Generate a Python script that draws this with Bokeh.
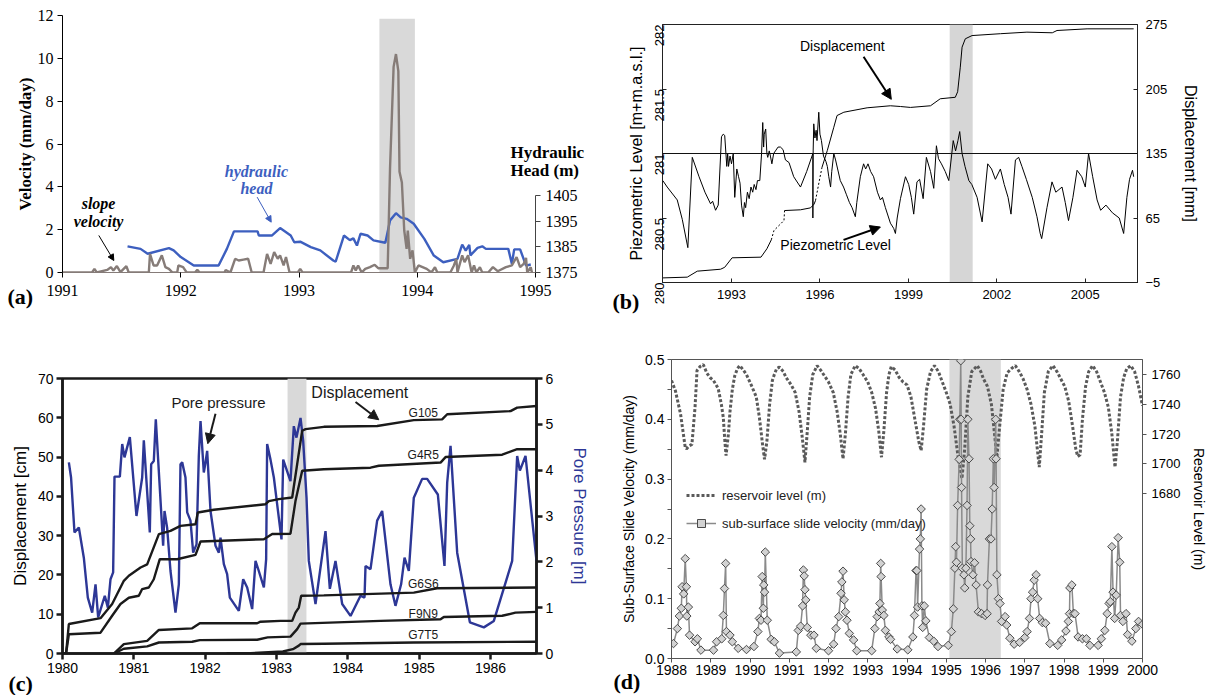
import math
from bokeh.plotting import figure
from bokeh.models import (Range1d, LinearAxis, FixedTicker, BoxAnnotation, Span,
                          Label, Arrow, NormalHead, Legend, LegendItem, Title,
                          NumeralTickFormatter)
from bokeh.layouts import row, column
from bokeh.embed import file_html
from bokeh.resources import INLINE

nan = float("nan")

# ---------------- panel (a) data ----------------
a_xticks = [1991, 1992, 1993, 1994, 1995]
a_vel_ticks = [0, 2, 4, 6, 8, 10, 12]
a_head_ticks = [1375, 1385, 1395, 1405]
a_head_title = {1421.9: "Hydraulic", 1414.9: "Head (m)"}
a_head_year = [1991.55, 1991.66, 1991.72, 1991.90, 1991.94, 1992.0, 1992.11, 1992.32, 1992.39, 1992.45,
               1992.65, 1992.66, 1992.77, 1992.84, 1992.93, 1992.96, 1993.01, 1993.10, 1993.18, 1993.29,
               1993.31, 1993.38, 1993.43, 1993.46, 1993.49, 1993.52, 1993.58, 1993.63, 1993.73, 1993.77,
               1993.82, 1993.86, 1993.91, 1993.97, 1994.06, 1994.14, 1994.22, 1994.34, 1994.38, 1994.41,
               1994.44, 1994.45, 1994.51, 1994.55, 1994.58, 1994.77, 1994.80, 1994.82, 1994.87, 1994.92,
               1994.96]
a_head = [1385.2, 1384.2, 1382.3, 1384.5, 1383.6, 1381.0, 1377.7, 1377.7, 1384.2, 1391.0,
          1391.0, 1389.4, 1389.4, 1392.3, 1389.4, 1386.8, 1387.0, 1384.9, 1383.6, 1379.7,
          1379.2, 1389.4, 1387.6, 1388.3, 1385.5, 1390.1, 1389.4, 1387.5, 1386.6, 1395.3,
          1398.1, 1396.5, 1395.9, 1394.0, 1388.1, 1381.6, 1379.0, 1380.3, 1385.9, 1383.5,
          1385.8, 1381.7, 1384.6, 1385.2, 1384.2, 1384.2, 1378.4, 1384.0, 1384.0, 1377.7,
          1378.1]
a_vel_year = [1991.00, 1991.25, 1991.27, 1991.29, 1991.378, 1991.41, 1991.43, 1991.46, 1991.49, 1991.54,
              1991.56, 1991.73, 1991.74, 1991.77, 1991.80, 1991.84, 1991.87, 1991.90, 1991.93, 1991.97,
              1991.98, 1992.02, 1992.05, 1992.12, 1992.14, 1992.16, 1992.37, 1992.38, 1992.42, 1992.46,
              1992.49, 1992.53, 1992.57, 1992.60, 1992.70, 1992.73, 1992.76, 1992.79, 1992.82, 1992.84,
              1992.87, 1992.89, 1992.92, 1992.99, 1993.01, 1993.03, 1993.44, 1993.46, 1993.48, 1993.50,
              1993.53, 1993.56, 1993.60, 1993.64, 1993.67, 1993.75, 1993.77, 1993.80, 1993.82, 1993.84,
              1993.85, 1993.87, 1993.89, 1993.91, 1993.92, 1993.94, 1993.96, 1993.98, 1994.01, 1994.08,
              1994.12, 1994.15, 1994.17, 1994.28, 1994.31, 1994.33, 1994.34, 1994.38, 1994.40, 1994.43,
              1994.46, 1994.48, 1994.50, 1994.53, 1994.55, 1994.60, 1994.64, 1994.68, 1994.75, 1994.80,
              1994.84, 1994.87, 1994.90, 1994.92, 1994.93, 1994.96, 1994.97]
a_vel = [0, 0, 0.17, 0, 0.12, 0.25, 0.09, 0.3, 0.02, 0.3,
         0, 0, 0.87, 0.33, 0.33, 0.8, 0.25, 0.17, 0, 0,
         0.33, 0.25, 0, 0, 0.12, 0, 0, 0.12, 0, 0.64,
         0.56, 0.6, 0.64, 0, 0, 0.87, 0.4, 0.95, 0.64, 0.8,
         0.33, 0.72, 0, 0, 0.17, 0, 0, 0.33, 0.1, 0.33,
         0, 0.17, 0.25, 0.36, 0.2, 0.2, 4.9, 9.6, 10.2, 9.4,
         4.7, 4.2, 1.96, 1.1, 1.96, 0.64, 1.03, 0, 0.33, 0.17,
         0, 0.25, 0, 0, 0.33, 0.64, 0, 0.8, 0.48, 0.8,
         0, 0.33, 0, 0.25, 0, 0, 0.25, 0.06, 0.25, 0.33,
         0.72, 0.25, 0.4, 0.68, 0, 0.25, 0]
a_event = [1993.68, 1993.98]

# ---------------- panel (b) data ----------------
b_xticks = [1993, 1996, 1999, 2002, 2005]
b_level_ticks = [280, 280.5, 281, 281.5, 282]
b_disp_ticks = [-5, 65, 135, 205, 275]
b_piezo_year = [1990.67, 1990.82, 1991.16, 1991.33, 1991.52, 1991.67, 1991.9, 1992.1, 1992.29, 1992.36,
                1992.46, 1992.55, 1992.66, 1992.72, 1992.77, 1992.84, 1992.87, 1992.9, 1992.95, 1993.0,
                1993.06, 1993.11, 1993.18, 1993.24, 1993.29, 1993.34, 1993.40, 1993.44, 1993.48, 1993.54,
                1993.6, 1993.66, 1993.72, 1993.77, 1993.83, 1993.88, 1993.96, 1994.02, 1994.06, 1994.09,
                1994.11, 1994.16, 1994.2, 1994.23, 1994.28, 1994.32, 1994.37, 1994.43, 1994.49, 1994.58,
                1994.66, 1994.75, 1994.83, 1994.95, 1995.11, 1995.34, 1995.55, 1995.76, 1995.76, 1995.77,
                1995.79, 1995.83, 1995.87, 1995.9, 1995.96, 1996.0, 1996.05, 1996.12, 1996.2, 1996.25,
                1996.3, 1996.36, 1996.4, 1996.47, 1996.53, 1996.6, 1996.69, 1996.8, 1996.9, 1997.0,
                1997.09, 1997.2, 1997.25, 1997.37, 1997.48, 1997.55, 1997.63, 1997.72, 1997.82, 1997.95,
                1998.05, 1998.12, 1998.22, 1998.39, 1998.5, 1998.56, 1998.62, 1998.73, 1998.9, 1999.01,
                1999.1, 1999.18, 1999.29, 1999.38, 1999.50, 1999.61, 1999.75, 1999.86, 1999.95, 2000.02,
                2000.12, 2000.25, 2000.37, 2000.52, 2000.6, 2000.68, 2000.74, 2000.82, 2000.92, 2001.05,
                2001.15, 2001.33, 2001.50, 2001.69, 2001.82, 2001.95, 2002.12, 2002.25, 2002.38, 2002.48,
                2002.63, 2002.74, 2002.85, 2003.0, 2003.2, 2003.36, 2003.47, 2003.52, 2003.70, 2003.87,
                2004.0, 2004.21, 2004.32, 2004.43, 2004.58, 2004.72, 2004.88, 2005.0, 2005.11, 2005.25,
                2005.40, 2005.52, 2005.7, 2005.92, 2006.15, 2006.30, 2006.41, 2006.5, 2006.60, 2006.64]
b_piezo = [280.79, 280.74, 280.64, 280.49, 280.27, 280.97, 280.82, 280.70, 280.61, 280.63,
           280.56, 280.60, 281.13, 281.15, 281.14, 280.90, 281.00, 280.90, 280.98, 280.92,
           281.00, 280.66, 280.88, 280.82, 280.77, 280.60, 280.51, 280.62, 280.58, 280.70,
           280.65, 280.74, 280.70, 280.76, 280.72, 280.79, 280.79, 281.00, 281.24, 281.05,
           281.15, 281.19, 281.00, 280.97, 281.02, 280.98, 280.92, 281.00, 281.02, 281.05,
           281.05, 281.03, 280.95, 280.93, 280.82, 280.74, 280.86, 281.00, 280.50, 281.02,
           281.23, 281.12, 281.18, 281.10, 281.32, 281.15, 281.10, 280.98, 280.94, 280.90,
           280.82, 280.74, 280.86, 281.00, 280.95, 280.88, 280.79, 280.74, 280.68, 280.62,
           280.58, 280.51, 280.62, 280.82, 280.92, 280.88, 280.92, 280.86, 280.82, 280.70,
           280.64, 280.66, 280.58, 280.46, 280.42, 280.38, 280.50, 280.65, 280.82, 280.76,
           280.66, 280.53, 280.78, 280.80, 280.65, 280.97, 280.86, 280.73, 281.06, 280.96,
           280.92, 280.86, 280.79, 281.10, 281.02, 281.10, 281.17, 281.00, 280.90, 280.79,
           280.76, 280.66, 280.47, 280.92, 280.88, 280.80, 280.88, 280.76, 280.66, 280.53,
           280.95, 280.97, 280.90, 280.80, 280.66, 280.51, 280.38, 280.34, 280.58, 280.78,
           280.70, 280.74, 280.62, 280.48, 280.66, 280.87, 280.82, 280.74, 281.00, 280.82,
           280.64, 280.56, 280.60, 280.54, 280.50, 280.38, 280.66, 280.80, 280.87, 280.82]
b_disp_year = [1990.67, 1991.5, 1991.84, 1992.63, 1992.77, 1993.02, 1994.0, 1994.2, 1994.35, nan,
               1994.8, 1995.34, 1995.68, 1995.8, 1995.85, nan,
               1996.07, 1996.25, 1996.47, 1996.58, 1996.81, 1997.6, 1998.39, 1998.73, 1999.07, 1999.75,
               2000.08, 2000.59, 2000.67, 2000.76, 2000.82, 2000.93, 2001.16, 2002.12, 2003.02, 2003.88,
               2004.04, 2005.06, 2006.64]
b_disp = [0, 0.8, 7.3, 9.4, 11.5, 21.8, 22.5, 31.6, 41.3, nan,
          73.1, 73.9, 76.0, 80.0, 84.0, nan,
          120.0, 138.3, 163.5, 176.2, 179.8, 184.6, 186.8, 186.0, 185.0, 186.8,
          194.4, 196.0, 202.0, 228.7, 250.4, 259.5, 263.0, 265.0, 266.7, 266.0,
          268.5, 270.3, 270.3]
b_gap_year = [1994.35, 1994.44, 1994.78, 1994.8, nan, 1995.85, 1996.0, 1996.07]
b_gap_disp = [41.3, 51.4, 62.3, 73.1, nan, 84.0, 109.0, 120.0]
b_event = [2000.40, 2001.18]

# ---------------- panel (c) data ----------------
c_xticks = [1980, 1981, 1982, 1983, 1984, 1985, 1986]
c_disp_ticks = [0, 10, 20, 30, 40, 50, 60, 70]
c_pp_ticks = [0, 1, 2, 3, 4, 5, 6]
c_pp_year = [1980.089, 1980.12, 1980.168, 1980.229, 1980.299, 1980.355, 1980.416, 1980.463, 1980.50, 1980.593,
             1980.636, 1980.673, 1980.71, 1980.729, 1980.804, 1980.837, 1980.869, 1980.944, 1981.037, 1981.117,
             1981.14, 1981.224, 1981.243, 1981.28, 1981.308, 1981.411, 1981.43, 1981.467, 1981.514, 1981.584,
             1981.631, 1981.654, 1981.678, 1981.724, 1981.748, 1981.794, 1981.832, 1981.879, 1981.911, 1981.935,
             1981.981, 1982.005, 1982.028, 1982.075, 1982.145, 1982.192, 1982.215, 1982.262, 1982.308, 1982.346,
             1982.472, 1982.533, 1982.589, 1982.659, 1982.706, 1982.752, 1982.823, 1982.855, 1982.869, 1982.916,
             1982.963, 1983.009, 1983.07, 1983.094, 1983.196, 1983.243, 1983.28, 1983.337, 1983.374, 1983.421,
             1983.453, 1983.547, 1983.687, 1983.748, 1983.827, 1983.921, 1984.038, 1984.178, 1984.234, 1984.248,
             1984.318, 1984.411, 1984.481, 1984.598, 1984.668, 1984.747, 1984.795, 1984.855, 1984.925, 1985.042,
             1985.112, 1985.262, 1985.355, 1985.393, 1985.44, 1985.533, 1985.711, 1985.907, 1986.047, 1986.304,
             1986.374, 1986.412, 1986.491, 1986.645]
c_pp = [4.17, 3.84, 2.64, 2.75, 2.09, 1.22, 0.89, 1.51, 0.79, 1.26,
        1.00, 1.62, 1.77, 3.86, 3.86, 4.57, 4.28, 4.72, 3.00, 3.84,
        4.65, 2.64, 4.13, 4.20, 5.11, 2.35, 3.11, 2.74, 1.80, 0.89,
        1.51, 4.13, 4.17, 3.84, 3.08, 2.90, 2.20, 2.38, 4.31, 5.07,
        3.95, 4.17, 4.42, 3.11, 2.35, 2.20, 2.53, 1.95, 1.73, 1.22,
        0.93, 1.62, 1.44, 0.97, 2.02, 1.80, 1.44, 2.06, 4.57, 4.23,
        3.84, 3.26, 2.49, 4.23, 3.76, 4.96, 4.71, 5.14, 4.64, 3.40,
        2.02, 1.08, 2.67, 1.41, 2.02, 1.08, 0.82, 1.26, 1.22, 1.91,
        1.84, 2.90, 3.11, 1.51, 1.04, 1.51, 2.09, 1.80, 3.40, 3.81,
        3.81, 3.47, 1.91, 3.73, 4.53, 2.20, 0.68, 0.57, 0.71, 2.02,
        4.31, 3.99, 4.31, 2.02]
c_g105_year = [1980.005, 1980.05, 1980.089, 1980.533, 1980.696, 1980.86, 1980.93, 1981.094, 1981.187, 1981.351,
               1981.514, 1981.654, 1981.865, 1981.897, 1982.121, 1982.846, 1982.893, 1983.033, 1983.22, 1983.29,
               1983.36, 1983.407, 1983.664, 1984.411, 1984.925, 1985.322, 1985.393, 1986.281, 1986.374, 1986.645]
c_g105 = [0, 0, 7.5, 9.0, 12.6, 18.5, 19.8, 21.9, 22.7, 30.4,
          31.2, 32.5, 32.9, 35.9, 36.6, 38.0, 38.8, 39.3, 39.7, 48.2,
          56.7, 57.1, 57.7, 57.9, 59.4, 59.6, 60.9, 61.7, 62.6, 63.0]
c_g4r5_year = [1980.005, 1980.05, 1980.089, 1980.533, 1980.696, 1980.813, 1980.93, 1981.07, 1981.117, 1981.21,
               1981.28, 1981.364, 1981.607, 1981.865, 1981.935, 1982.823, 1982.94, 1983.196, 1983.266, 1983.36,
               1983.664, 1984.318, 1984.435, 1985.3, 1985.37, 1986.164, 1986.374, 1986.645]
c_g4r5 = [0, 0, 4.9, 5.3, 9.6, 12.6, 14.2, 14.7, 16.4, 16.8,
          18.9, 24.0, 24.0, 25.1, 28.5, 29.1, 30.4, 30.5, 38.8, 46.5,
          46.9, 47.3, 47.8, 48.6, 50.0, 50.6, 52.0, 52.0]
c_g6s6_year = [1980.72, 1980.86, 1981.187, 1981.351, 1981.818, 1981.925, 1982.729, 1982.776, 1983.056, 1983.22,
               1983.266, 1983.313, 1983.346, 1983.664, 1984.925, 1985.252, 1986.645]
c_g6s6 = [0, 2.4, 3.2, 6.0, 6.4, 7.7, 7.7, 8.1, 8.3, 8.3,
          10.4, 11.7, 14.7, 14.8, 15.5, 16.6, 16.8]
c_f9n9_year = [1980.72, 1980.86, 1981.187, 1981.351, 1981.818, 1981.925, 1982.729, 1982.876, 1983.196, 1983.29,
               1983.337, 1984.458, 1985.3, 1985.346, 1986.164, 1986.35, 1986.645]
c_f9n9 = [0, 1.2, 1.8, 2.8, 3.0, 3.4, 3.5, 4.1, 4.3, 6.2,
          7.6, 8.3, 8.7, 9.3, 9.6, 10.4, 10.6]
c_g7t5_year = [1982.3, 1982.636, 1983.09, 1983.23, 1983.313, 1983.337, 1983.664, 1984.925, 1986.645]
c_g7t5 = [0, 0.1, 0.5, 1.1, 2.0, 2.4, 2.5, 2.8, 3.0]
c_event = [1983.155, 1983.42]

# ---------------- panel (d) data ----------------
d_xticks = [1988, 1989, 1990, 1991, 1992, 1993, 1994, 1995, 1996, 1997, 1998, 1999, 2000]
d_vel_ticks = [0.0, 0.1, 0.2, 0.3, 0.4, 0.5]
d_vel_minor = [0.05, 0.15, 0.25, 0.35, 0.45]
d_res_ticks = [1680, 1700, 1720, 1740, 1760]
d_res_year = [1988.0, 1988.1, 1988.23, 1988.35, 1988.38, 1988.45, 1988.52, 1988.6, 1988.65, 1988.73,
              1988.81, 1988.9, 1988.98, 1989.07, 1989.19, 1989.27, 1989.32, 1989.36, 1989.39, 1989.45,
              1989.49, 1989.55, 1989.61, 1989.68, 1989.74, 1989.83, 1989.91, 1990.03, 1990.16, 1990.24,
              1990.32, 1990.37, 1990.43, 1990.5, 1990.57, 1990.62, 1990.68, 1990.75, 1990.85, 1990.92,
              1991.05, 1991.15, 1991.25, 1991.33, 1991.4, 1991.46, 1991.52, 1991.6, 1991.71, 1991.8,
              1991.9, 1992.0, 1992.12, 1992.22, 1992.3, 1992.37, 1992.43, 1992.5, 1992.57, 1992.68,
              1992.78, 1992.88, 1993.0, 1993.1, 1993.2, 1993.28, 1993.35, 1993.41, 1993.48, 1993.54,
              1993.6, 1993.7, 1993.8, 1993.9, 1994.0, 1994.1, 1994.2, 1994.3, 1994.36, 1994.42,
              1994.5, 1994.6, 1994.7, 1994.8, 1994.9, 1995.0, 1995.1, 1995.2, 1995.3, 1995.4,
              1995.47, 1995.55, 1995.65, 1995.79, 1995.88, 1995.95, 1996.05, 1996.15, 1996.23, 1996.29,
              1996.36, 1996.45, 1996.55, 1996.66, 1996.76, 1996.86, 1996.96, 1997.06, 1997.16, 1997.26,
              1997.32, 1997.37, 1997.43, 1997.5, 1997.6, 1997.72, 1997.82, 1997.92, 1998.02, 1998.12,
              1998.22, 1998.3, 1998.35, 1998.41, 1998.47, 1998.55, 1998.63, 1998.73, 1998.83, 1998.93,
              1999.03, 1999.13, 1999.22, 1999.3, 1999.36, 1999.44, 1999.52, 1999.6, 1999.7, 1999.8,
              1999.9, 2000.0]
d_res = [1756, 1749, 1733.6, 1711, 1710, 1712, 1713, 1738, 1762.7, 1765.4,
         1766.7, 1761, 1758, 1756, 1750.6, 1740, 1731, 1715, 1705.5, 1720,
         1735, 1750, 1759, 1764, 1766, 1763, 1760, 1753, 1745, 1731,
         1713, 1703, 1715, 1740, 1756, 1760, 1764, 1765, 1762, 1758,
         1753, 1748, 1735, 1718, 1701, 1722, 1745, 1760, 1766, 1763,
         1759, 1755, 1748, 1735, 1720, 1703.3, 1720, 1745, 1760, 1766,
         1764, 1760, 1755, 1748, 1737, 1722, 1704.4, 1722, 1748, 1760,
         1765.3, 1763, 1758, 1755, 1753, 1745, 1730, 1715, 1708.9, 1725,
         1750, 1762, 1766, 1762, 1755, 1748, 1740, 1725, 1705, 1690,
         1710, 1745, 1762, 1766, 1762, 1757, 1752, 1740, 1720, 1704.4,
         1725, 1750, 1761, 1764, 1766, 1762, 1757, 1750, 1740, 1725,
         1710, 1697.7, 1720, 1748, 1762, 1766, 1762, 1757, 1752, 1742,
         1725, 1710, 1704.9, 1706, 1730, 1752, 1762, 1766, 1762, 1755,
         1748, 1738, 1720, 1697.7, 1715, 1745, 1758, 1764, 1766, 1762,
         1752, 1739]
d_vel_year = [1988.05, 1988.15, 1988.2, 1988.25, 1988.27, 1988.31, 1988.35, 1988.38, 1988.39, 1988.43,
              1988.46, 1988.6, 1988.66, 1988.75, 1989.07, 1989.15, 1989.28, 1989.32, 1989.35, 1989.38,
              1989.40, 1989.49, 1989.55, 1989.70, 1989.91, 1990.10, 1990.20, 1990.24, 1990.28, 1990.31,
              1990.34, 1990.35, 1990.37, 1990.39, 1990.44, 1990.54, 1990.62, 1990.75, 1991.18, 1991.23,
              1991.29, 1991.34, 1991.36, 1991.38, 1991.40, 1991.42, 1991.46, 1991.55, 1991.63, 1991.69,
              1992.00, 1992.13, 1992.19, 1992.26, 1992.32, 1992.34, 1992.37, 1992.40, 1992.43, 1992.47,
              1992.53, 1992.64, 1992.72, 1993.10, 1993.18, 1993.24, 1993.29, 1993.31, 1993.33, 1993.34,
              1993.37, 1993.41, 1993.45, 1993.54, 1993.58, 1993.75, 1994.02, 1994.15, 1994.19, 1994.23,
              1994.25, 1994.27, 1994.32, 1994.34, 1994.36, 1994.38, 1994.40, 1994.44, 1994.48, 1994.57,
              1994.68, 1994.79, 1995.05, 1995.13, 1995.18, 1995.22, 1995.24, 1995.26, 1995.29, 1995.33,
              1995.345, 1995.37, 1995.38, 1995.39, 1995.41, 1995.45, 1995.47, 1995.50, 1995.53, 1995.55,
              1995.58, 1995.60, 1995.62, 1995.63, 1995.68, 1995.72, 1995.76, 1995.82, 1995.90, 1995.99,
              1996.04, 1996.05, 1996.10, 1996.14, 1996.17, 1996.20, 1996.22, 1996.26, 1996.27, 1996.29,
              1996.33, 1996.37, 1996.41, 1996.50, 1996.54, 1996.62, 1996.73, 1996.87, 1997.00, 1997.06,
              1997.12, 1997.16, 1997.20, 1997.24, 1997.29, 1997.33, 1997.38, 1997.45, 1997.53, 1997.64,
              1997.84, 1997.94, 1998.05, 1998.11, 1998.14, 1998.15, 1998.20, 1998.24, 1998.28, 1998.36,
              1998.47, 1998.57, 1998.66, 1998.87, 1998.95, 1999.04, 1999.10, 1999.15, 1999.18, 1999.22,
              1999.25, 1999.29, 1999.33, 1999.38, 1999.42, 1999.44, 1999.50, 1999.58, 1999.62, 1999.73,
              1999.83, 1999.90, 2000.0]
d_vel = [0.025, 0.05, 0.071, 0.084, 0.12, 0.108, 0.167, 0.12, 0.071, 0.086,
         0.039, 0.028, 0.033, 0.014, 0.014, 0.028, 0.033, 0.072, 0.117, 0.159,
         0.045, 0.039, 0.028, 0.017, 0.015, 0.02, 0.045, 0.067, 0.064, 0.137,
         0.084, 0.123, 0.111, 0.178, 0.064, 0.032, 0.028, 0.009, 0.011, 0.047,
         0.054, 0.088, 0.148, 0.138, 0.115, 0.098, 0.052, 0.039, 0.039, 0.017,
         0.013, 0.024, 0.05, 0.07, 0.109, 0.128, 0.146, 0.098, 0.078, 0.064,
         0.042, 0.031, 0.013, 0.013, 0.05, 0.07, 0.078, 0.092, 0.159, 0.137,
         0.081, 0.072, 0.047, 0.036, 0.032, 0.016, 0.0145, 0.036, 0.072, 0.147,
         0.147, 0.086, 0.183, 0.2, 0.25, 0.088, 0.052, 0.088, 0.063, 0.035,
         0.029, 0.02, 0.022, 0.045, 0.083, 0.151, 0.187, 0.161, 0.256, 0.333,
         0.4, 0.498, 0.4, 0.286, 0.151, 0.14, 0.118, 0.151, 0.256, 0.4,
         0.334, 0.222, 0.2, 0.162, 0.14, 0.16, 0.123, 0.078, 0.075, 0.072,
         0.075, 0.123, 0.2, 0.2, 0.25, 0.334, 0.286, 0.4, 0.334, 0.14,
         0.1, 0.092, 0.062, 0.07, 0.056, 0.034, 0.024, 0.027, 0.035, 0.045,
         0.067, 0.1, 0.111, 0.131, 0.14, 0.1, 0.067, 0.06, 0.059, 0.025,
         0.022, 0.031, 0.046, 0.062, 0.075, 0.118, 0.123, 0.075, 0.075, 0.036,
         0.033, 0.033, 0.022, 0.022, 0.033, 0.047, 0.075, 0.092, 0.095, 0.187,
         0.111, 0.067, 0.106, 0.202, 0.161, 0.072, 0.062, 0.075, 0.04, 0.029,
         0.05, 0.062, 0.057]
d_event = [1995.08, 1996.39]

SERIF = "Liberation Serif"
SANS = "Liberation Sans"


def style_axis(ax, font, tick_size, label_size="14px", label_style="normal",
               tick_out=5, tick_in=0, standoff=5, label_standoff=5, lw=1,
               color="black"):
    ax.major_label_text_font = font
    ax.major_label_text_font_size = tick_size
    ax.major_label_text_color = "black"
    ax.axis_label_text_font = font
    ax.axis_label_text_font_size = label_size
    ax.axis_label_text_font_style = label_style
    ax.axis_label_text_color = "black"
    ax.major_tick_out = tick_out
    ax.major_tick_in = tick_in
    ax.minor_tick_out = 0
    ax.minor_tick_in = 0
    ax.major_label_standoff = standoff
    ax.axis_label_standoff = label_standoff
    ax.axis_line_width = lw
    ax.major_tick_line_width = lw
    ax.axis_line_color = color
    ax.major_tick_line_color = color


def base_fig(w, h, xr, yr, l, r, t, b):
    p = figure(width=w, height=h, x_range=xr, y_range=yr, output_backend="svg",
               toolbar_location=None, min_border_left=l, min_border_right=r,
               min_border_top=t, min_border_bottom=b)
    p.xgrid.visible = False
    p.ygrid.visible = False
    p.background_fill_color = "white"
    p.border_fill_color = "white"
    return p


def panel_label(p, text, offset, standoff):
    p.add_layout(Title(text=text, align="left", vertical_align="top", offset=offset,
                       standoff=standoff, text_font=SERIF, text_font_style="bold",
                       text_font_size="22px", text_color="black"), "below")


# ================= (a) =================
pa = base_fig(608, 326, Range1d(1991, 1995), Range1d(0, 12), 62, 73, 15, 54)
pa.outline_line_color = None
pa.extra_y_ranges = {"head": Range1d(1375, 1475.1)}
pa.xaxis.ticker = FixedTicker(ticks=a_xticks)
pa.yaxis.ticker = FixedTicker(ticks=a_vel_ticks)
pa.yaxis.axis_label = "Velocity (mm/day)"
style_axis(pa.xaxis[0], SERIF, "16px", standoff=7)
pa.xaxis[0].axis_line_color = "#857b78"
style_axis(pa.yaxis[0], SERIF, "16px", label_size="17px", label_style="bold",
           standoff=4, label_standoff=0)
ax_head = LinearAxis(y_range_name="head", ticker=FixedTicker(ticks=a_head_ticks),
                     bounds=(1375, 1405))
style_axis(ax_head, SERIF, "16px", standoff=5, color="#444444")
pa.add_layout(ax_head, "right")
# axis title of the hydraulic-head axis, written above the axis
ax_head_title = LinearAxis(y_range_name="head", ticker=FixedTicker(ticks=list(a_head_title.keys())),
                           major_label_overrides=a_head_title)
style_axis(ax_head_title, SERIF, "17px", tick_out=0, standoff=-70)
ax_head_title.major_label_text_font_style = "bold"
ax_head_title.axis_line_color = None
ax_head_title.major_tick_line_color = None
pa.add_layout(ax_head_title, "right")
pa.add_layout(BoxAnnotation(left=a_event[0], right=a_event[1], bottom=0, top=11.85,
                            fill_color="#d9d9d9", fill_alpha=1, line_color=None,
                            level="underlay"))
pa.line(a_head_year, a_head, y_range_name="head", color="#3d5fbf", line_width=2.4)
pa.line(a_vel_year, a_vel, color="#867c78", line_width=2.4)
for txt, yy in [("slope", 3.22), ("velocity", 2.40)]:
    pa.add_layout(Label(x=1991.305, y=yy, text=txt, text_align="center", text_baseline="middle",
                        text_font=SERIF, text_font_style="bold italic", text_font_size="16px",
                        text_color="black"))
for txt, yy in [("hydraulic", 4.72), ("head", 3.94)]:
    pa.add_layout(Label(x=1992.64, y=yy, text=txt, text_align="center", text_baseline="middle",
                        text_font=SERIF, text_font_style="bold italic", text_font_size="16px",
                        text_color="#3d5fbf"))
pa.add_layout(Arrow(end=NormalHead(size=6, fill_color="black", line_color="black"),
                    x_start=1991.307, y_start=1.73, x_end=1991.434, y_end=0.56,
                    line_color="black", line_width=1))
pa.add_layout(Arrow(end=NormalHead(size=6, fill_color="#3d5fbf", line_color="#3d5fbf"),
                    x_start=1992.646, y_start=3.52, x_end=1992.765, y_end=2.35,
                    line_color="#3d5fbf", line_width=1))
panel_label(pa, "(a)", -55, -30)

# ================= (b) =================
pb = base_fig(602, 326, Range1d(1990.66, 2006.77), Range1d(280, 282), 54, 73, 24, 44)
pb.outline_line_color = "#222222"
pb.extra_y_ranges = {"disp": Range1d(-5, 275)}
pb.xaxis.ticker = FixedTicker(ticks=b_xticks)
pb.yaxis.ticker = FixedTicker(ticks=b_level_ticks)
pb.yaxis.axis_label = "Piezometric Level [m+m.a.s.l.]"
pb.yaxis.major_label_orientation = math.pi / 2
style_axis(pb.xaxis[0], SANS, "13px", tick_out=0, tick_in=4, standoff=7, color="#222222")
style_axis(pb.yaxis[0], SANS, "13px", label_size="16px", tick_out=0, tick_in=4,
           standoff=3, label_standoff=3, color="#222222")
ax_disp = LinearAxis(y_range_name="disp", ticker=FixedTicker(ticks=b_disp_ticks),
                     axis_label="Displacement [mm]")
style_axis(ax_disp, SANS, "13px", label_size="16px", tick_out=0, tick_in=4, standoff=8,
           label_standoff=12, color="#222222")
pb.add_layout(ax_disp, "right")
pb.add_layout(BoxAnnotation(left=b_event[0], right=b_event[1], fill_color="#d6d6d6",
                            fill_alpha=1, line_color=None, level="underlay"))
pb.add_layout(Span(location=281, dimension="width", line_color="#111111", line_width=1))
pb.line(b_piezo_year, b_piezo, color="black", line_width=1)
pb.line(b_disp_year, b_disp, y_range_name="disp", color="black", line_width=1)
pb.line(b_gap_year, b_gap_disp, y_range_name="disp", color="black", line_width=1,
        line_dash="2 2")
pb.add_layout(Label(x=1996.76, y=281.83, text="Displacement", text_align="center",
                    text_baseline="middle", text_font=SANS, text_font_size="14px",
                    text_color="black"))
pb.add_layout(Arrow(end=NormalHead(size=10, fill_color="black", line_color="black"),
                    x_start=1997.48, y_start=281.75, x_end=1998.42, y_end=281.42,
                    line_color="black", line_width=2))
pb.add_layout(Label(x=1996.53, y=280.29, text="Piezometric Level", text_align="center",
                    text_baseline="middle", text_font=SANS, text_font_size="14px",
                    text_color="black"))
pb.add_layout(Arrow(end=NormalHead(size=10, fill_color="black", line_color="black"),
                    x_start=1996.8, y_start=280.33, x_end=1998.05, y_end=280.43,
                    line_color="black", line_width=2))
panel_label(pb, "(b)", -50, -26)

# ================= (c) =================
BLUE_C = "#2d3796"
pc = base_fig(608, 369, Range1d(1980, 1986.645), Range1d(0, 70), 62, 72, 52, 42)
pc.outline_line_color = "#1a1a1a"
pc.outline_line_width = 2.5
pc.extra_y_ranges = {"pp": Range1d(0, 6)}
pc.xaxis.ticker = FixedTicker(ticks=c_xticks)
pc.yaxis.ticker = FixedTicker(ticks=c_disp_ticks)
pc.yaxis.axis_label = "Displacement [cm]"
style_axis(pc.xaxis[0], SANS, "14px", tick_out=6, standoff=3, lw=2.5, color="#1a1a1a")
style_axis(pc.yaxis[0], SANS, "14px", label_size="17px", tick_out=6, standoff=3,
           label_standoff=5, lw=2.5, color="#1a1a1a")
ax_pp = LinearAxis(y_range_name="pp", ticker=FixedTicker(ticks=c_pp_ticks),
                   axis_label="Pore Pressure [m]")
style_axis(ax_pp, SANS, "14px", label_size="17px", tick_out=6, standoff=3,
           label_standoff=14, lw=2.5, color="#1a1a1a")
ax_pp.axis_label_text_color = BLUE_C
pc.add_layout(ax_pp, "right")
pc.add_layout(BoxAnnotation(left=c_event[0], right=c_event[1], fill_color="#d9d9d9",
                            fill_alpha=1, line_color=None, level="underlay"))
pc.line(c_pp_year, c_pp, y_range_name="pp", color=BLUE_C, line_width=2.4)
for xs, ys in [(c_g105_year, c_g105), (c_g4r5_year, c_g4r5), (c_g6s6_year, c_g6s6),
               (c_f9n9_year, c_f9n9), (c_g7t5_year, c_g7t5)]:
    pc.line(xs, ys, color="#1a1a1a", line_width=2.4)
for txt, yy in [("G105", 61.2), ("G4R5", 50.6), ("G6S6", 17.7), ("F9N9", 10.1), ("G7T5", 4.8)]:
    pc.add_layout(Label(x=1985.057, y=yy, text=txt, text_align="center", text_baseline="middle",
                        text_font=SANS, text_font_size="12px", text_color="#1a1a1a"))
pc.add_layout(Label(x=1982.187, y=63.9, text="Pore pressure", text_align="center",
                    text_baseline="middle", text_font=SANS, text_font_size="15px",
                    text_color="#1a1a1a"))
pc.add_layout(Arrow(end=NormalHead(size=10, fill_color="#1a1a1a", line_color="#1a1a1a"),
                    x_start=1982.145, y_start=61.0, x_end=1982.037, y_end=53.4,
                    line_color="#1a1a1a", line_width=2))
pc.add_layout(Label(x=1984.168, y=66.5, text="Displacement", text_align="center",
                    text_baseline="middle", text_font=SANS, text_font_size="16px",
                    text_color="#1a1a1a"))
pc.add_layout(Arrow(end=NormalHead(size=10, fill_color="#1a1a1a", line_color="#1a1a1a"),
                    x_start=1984.108, y_start=64.0, x_end=1984.434, y_end=59.5,
                    line_color="#1a1a1a", line_width=2))
panel_label(pc, "(c)", -54, -9)

# ================= (d) =================
GRAY_D = "#555555"
pdd = base_fig(602, 369, Range1d(1988, 2000), Range1d(0, 0.5), 63, 63, 33, 37)
pdd.outline_line_color = GRAY_D
pdd.extra_y_ranges = {"res": Range1d(1569.1, 1770.1)}
pdd.xaxis.ticker = FixedTicker(ticks=d_xticks)
pdd.yaxis.ticker = FixedTicker(ticks=d_vel_ticks, minor_ticks=d_vel_minor)
pdd.yaxis.formatter = NumeralTickFormatter(format="0.0")
pdd.yaxis.axis_label = "Sub-Surface Slide Velocity (mm/day)"
style_axis(pdd.xaxis[0], SANS, "14px", tick_out=4, standoff=2, color=GRAY_D)
style_axis(pdd.yaxis[0], SANS, "14px", label_size="14px", tick_out=4, standoff=3,
           label_standoff=5, color=GRAY_D)
pdd.yaxis[0].minor_tick_out = 4
pdd.yaxis[0].minor_tick_line_color = GRAY_D
ax_res = LinearAxis(y_range_name="res", ticker=FixedTicker(ticks=d_res_ticks),
                    axis_label="Reservoir Level (m)")
style_axis(ax_res, SANS, "13px", label_size="14px", tick_out=4, standoff=5,
           label_standoff=8, color=GRAY_D)
pdd.add_layout(ax_res, "right")
pdd.add_layout(BoxAnnotation(left=d_event[0], right=d_event[1], fill_color="#d9d9d9",
                             fill_alpha=1, line_color=None, level="underlay"))
r_res = pdd.line(d_res_year, d_res, y_range_name="res", color="#5a5a5a", line_width=3,
                 line_dash="3 2")
r_vl = pdd.line(d_vel_year, d_vel, color="#8a8a8a", line_width=1.5)
r_vs = pdd.scatter(d_vel_year, d_vel, marker="square", angle=math.pi / 4, size=6,
                   fill_color="#d2d2d2", line_color="#4a4a4a", line_width=1)
leg = Legend(items=[LegendItem(label="reservoir level (m)", renderers=[r_res]),
                    LegendItem(label="sub-surface slide velocity (mm/day)", renderers=[r_vl, r_vs])],
             location=(15, 125), border_line_color=None, background_fill_alpha=0,
             padding=0, margin=0, spacing=8, glyph_width=30, glyph_height=20,
             label_standoff=6, label_text_font=SANS, label_text_font_size="13px",
             label_text_color="#222222")
pdd.add_layout(leg)
panel_label(pdd, "(d)", -58, -18)

# each figure sits in its own column so that Bokeh does not align borders across panels
layout = column(row(column(pa), column(pb)), row(column(pc), column(pdd)))
open("out.html", "w").write(file_html(layout, INLINE))
